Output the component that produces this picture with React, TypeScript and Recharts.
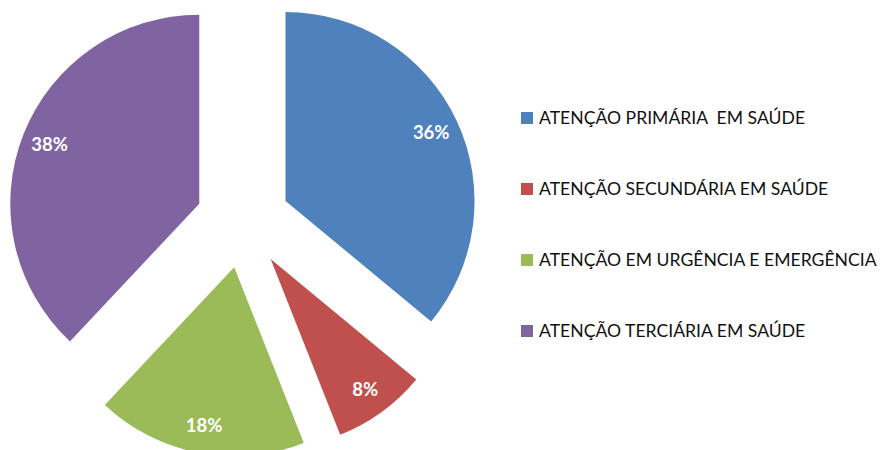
import { PieChart, Pie, Cell, Sector, Legend } from "recharts";

const categories = [
  "ATENÇÃO PRIMÁRIA  EM SAÚDE",
  "ATENÇÃO SECUNDÁRIA EM SAÚDE",
  "ATENÇÃO EM URGÊNCIA E EMERGÊNCIA",
  "ATENÇÃO TERCIÁRIA EM SAÚDE",
];
const shares = [36, 8, 18, 38];

const COLORS = ["#4F81BD", "#C0504D", "#9BBB59", "#8064A2"];
const FONT = "Lato, 'Open Sans', 'Liberation Sans', sans-serif";
const EXPLODE = 47;
const RAD = Math.PI / 180;

const data = categories.map((name, i) => ({ name, value: shares[i] }));

// push every slice out along its bisector
function ExplodedSlice(props: any) {
  const { cx, cy, midAngle } = props;
  const dx = EXPLODE * Math.cos(-midAngle * RAD);
  const dy = EXPLODE * Math.sin(-midAngle * RAD);
  return <Sector {...props} cx={cx + dx} cy={cy + dy} stroke="none" />;
}

function renderLabel(props: any) {
  const { cx, cy, midAngle, outerRadius, value } = props;
  const r = EXPLODE + outerRadius - 28;
  const x = cx + r * Math.cos(-midAngle * RAD);
  const y = cy + r * Math.sin(-midAngle * RAD);
  return (
    <text
      x={x}
      y={y}
      fill="#fff"
      fontFamily={FONT}
      fontWeight={700}
      fontSize={18.5}
      textAnchor="middle"
      dominantBaseline="central"
    >
      {`${value}%`}
    </text>
  );
}

function renderLegend(props: any) {
  // keep the series order (Recharts sorts the payload by name)
  const items = [...(props.payload || [])].sort(
    (a: any, b: any) => categories.indexOf(a.value) - categories.indexOf(b.value)
  );
  return (
    <div style={{ fontFamily: FONT }}>
      {items.map((entry: any, i: number) => (
        <div key={i} style={{ display: "flex", alignItems: "center", height: 71 }}>
          <span
            style={{
              display: "inline-block",
              width: 12,
              height: 12,
              marginRight: 6,
              backgroundColor: entry.color,
            }}
          />
          <span style={{ fontSize: 17.6, color: "#111", whiteSpace: "pre" }}>{entry.value}</span>
        </div>
      ))}
    </div>
  );
}

export default function App() {
  return (
    <div style={{ width: 878, height: 442, background: "#fff" }}>
      <PieChart width={878} height={442} margin={{ top: 0, right: 0, bottom: 0, left: 0 }}>
        <Pie
          data={data}
          dataKey="value"
          nameKey="name"
          cx={235}
          cy={213}
          outerRadius={189}
          startAngle={90}
          endAngle={-270}
          stroke="none"
          shape={ExplodedSlice}
          label={renderLabel}
          labelLine={false}
          isAnimationActive={false}
        >
          {data.map((_, i) => (
            <Cell key={i} fill={COLORS[i]} />
          ))}
        </Pie>
        <Legend
          layout="vertical"
          align="right"
          verticalAlign="top"
          content={renderLegend}
          wrapperStyle={{ left: 513, top: 74, width: 365 }}
        />
      </PieChart>
    </div>
  );
}
